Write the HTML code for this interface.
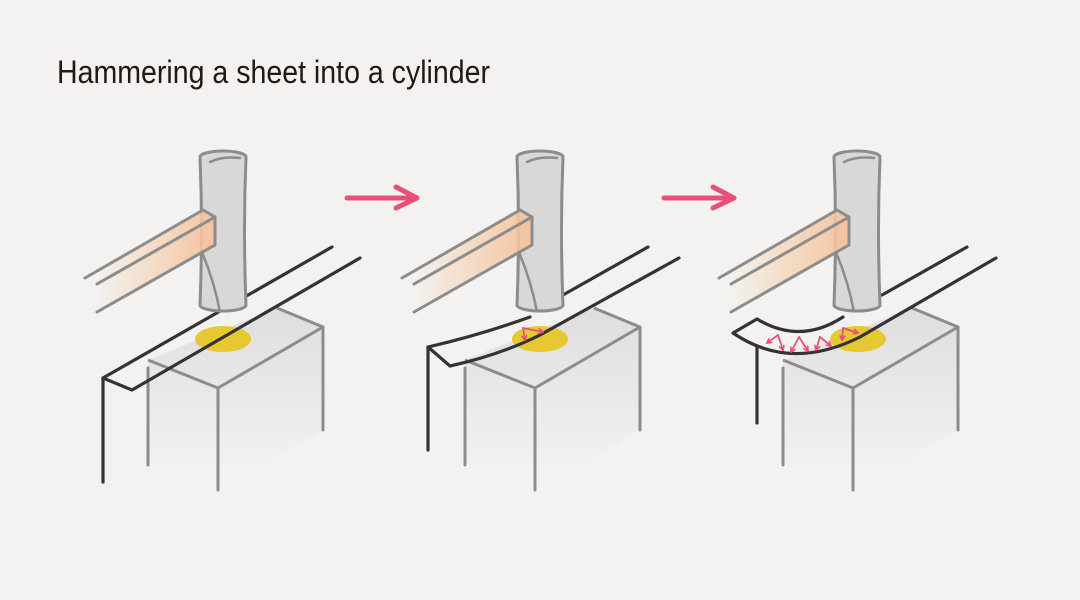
<!DOCTYPE html>
<html><head><meta charset="utf-8"><style>
html,body{margin:0;padding:0;background:#f3f2f0;}
svg{display:block;}
</style></head><body>
<svg width="1080" height="600" viewBox="0 0 1080 600" xmlns="http://www.w3.org/2000/svg">
<defs>
<linearGradient id="hg" x1="97" y1="0" x2="215" y2="0" gradientUnits="userSpaceOnUse">
<stop offset="0" stop-color="#f5c9a0" stop-opacity="0"/><stop offset="0.3" stop-color="#f5c9a0" stop-opacity="0.35"/><stop offset="1" stop-color="#f5c3a0"/>
</linearGradient>
<linearGradient id="bg1" x1="0" y1="300" x2="0" y2="470" gradientUnits="userSpaceOnUse">
<stop offset="0" stop-color="#dedddc"/><stop offset="1" stop-color="#f3f2f0"/>
</linearGradient>
<marker id="ah" markerWidth="6" markerHeight="6" refX="5" refY="3" orient="auto" markerUnits="userSpaceOnUse">
<path d="M0,0 L5,3 L0,6" fill="none" stroke="#e8507a" stroke-width="1.6"/>
</marker>
<g id="block">
<polygon points="148,360 277,308 323,327 323,430 218,490 148,465" fill="url(#bg1)"/>
<polyline points="277,308 323,327 218,388 148,360" fill="none" stroke="#8c8c8c" stroke-width="3" stroke-linejoin="round"/>
<line x1="323" y1="327" x2="323" y2="430" stroke="#8c8c8c" stroke-width="3" stroke-linecap="round"/>
<line x1="218" y1="388" x2="218" y2="490" stroke="#8c8c8c" stroke-width="3" stroke-linecap="round"/>
<line x1="148" y1="368" x2="148" y2="465" stroke="#8c8c8c" stroke-width="3" stroke-linecap="round"/>
<ellipse cx="223" cy="339" rx="28" ry="13" fill="#e6c623" opacity="0.92"/>
</g>
<g id="hammer">
<path d="M200,157 Q203,230 200,305 A23,6 0 0 0 246,305 Q243,230 246,157 A23,6 0 0 0 200,157 Z" fill="#d9d8d7" stroke="#8c8c8c" stroke-width="3" stroke-linejoin="round"/>
<path d="M210,162 Q222,156 240,158" fill="none" stroke="#8c8c8c" stroke-width="2.5" stroke-linecap="round"/>
<path d="M201,250 Q214,280 220,312" fill="none" stroke="#8c8c8c" stroke-width="2.5"/>
<polygon points="85,278 203,210 215,217 215,245 97,312 97,284" fill="url(#hg)"/>
<polygon points="120,292 203,210 215,217 215,245 140,288" fill="#f5c9a0" opacity="0.001"/>
<polyline points="85,278 203,210 215,217 215,245" fill="none" stroke="#8c8c8c" stroke-width="3" stroke-linecap="round" stroke-linejoin="round"/>
<line x1="97" y1="284" x2="215" y2="217" stroke="#8c8c8c" stroke-width="3" stroke-linecap="round"/>
<line x1="97" y1="312" x2="215" y2="245" stroke="#8c8c8c" stroke-width="3" stroke-linecap="round"/>
</g>
</defs>

<text x="57" y="83" font-family="Liberation Sans, sans-serif" font-size="32" fill="#231815" textLength="433" lengthAdjust="spacingAndGlyphs">Hammering a sheet into a cylinder</text>

<g fill="none" stroke="#e8507a" stroke-width="5" stroke-linecap="round" stroke-linejoin="round">
<line x1="347" y1="198" x2="416" y2="198"/><polyline points="396,187 417,198 396,208"/>
<line x1="664" y1="198" x2="733" y2="198"/><polyline points="713,187 734,198 713,208"/>
</g>

<!-- Panel 1 -->
<use href="#block"/>
<g fill="none" stroke="#353233" stroke-width="3.2" stroke-linecap="round" stroke-linejoin="round">
<polyline points="332,247 103,378 132,390 360,258"/>
<line x1="103" y1="378" x2="103" y2="482"/>
</g>
<use href="#hammer"/>

<!-- Panel 2 -->
<use href="#block" x="317"/>
<g fill="none" stroke="#353233" stroke-width="3.2" stroke-linecap="round" stroke-linejoin="round">
<path d="M648,247 L563,295 M530,317 Q480,335 428,347 L450,366 Q500,355 540,335 L679,258"/>
<line x1="428" y1="347" x2="428" y2="450"/>
</g>
<use href="#hammer" x="317"/>
<g fill="none" stroke="#e8507a" stroke-width="1.8" stroke-linecap="round">
<line x1="523" y1="328" x2="525" y2="340" marker-end="url(#ah)"/>
<line x1="523" y1="328" x2="543" y2="332" marker-end="url(#ah)"/>
</g>

<!-- Panel 3 -->
<use href="#block" x="635"/>
<g fill="none" stroke="#353233" stroke-width="3.2" stroke-linecap="round" stroke-linejoin="round">
<path d="M967,247 L882,295 M843,317 Q800,345 757,319 L733,333 Q790,372 860,337 L996,258"/>
<line x1="757" y1="347" x2="757" y2="423"/>
</g>
<use href="#hammer" x="634"/>
<g fill="none" stroke="#e8507a" stroke-width="1.8" stroke-linecap="round">
<line x1="778" y1="335" x2="767" y2="343" marker-end="url(#ah)"/>
<line x1="778" y1="335" x2="783" y2="350" marker-end="url(#ah)"/>
<line x1="799" y1="337" x2="791" y2="352" marker-end="url(#ah)"/>
<line x1="799" y1="337" x2="808" y2="351" marker-end="url(#ah)"/>
<line x1="820" y1="337" x2="816" y2="350" marker-end="url(#ah)"/>
<line x1="820" y1="337" x2="831" y2="346" marker-end="url(#ah)"/>
<line x1="843" y1="328" x2="842" y2="340" marker-end="url(#ah)"/>
<line x1="843" y1="328" x2="858" y2="333" marker-end="url(#ah)"/>
</g>
</svg>
</body></html>
